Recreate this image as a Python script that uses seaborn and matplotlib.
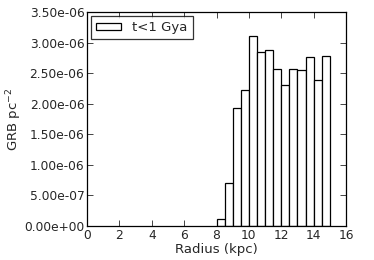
import numpy as np
import matplotlib
matplotlib.use("Agg")
import matplotlib.pyplot as plt
import seaborn as sns

# bin edges (kpc) and GRB surface density per bin
bin_edges = [8.0, 8.5, 9.0, 9.5, 10.0, 10.5, 11.0, 11.5, 12.0, 12.5, 13.0, 13.5, 14.0, 14.5, 15.0]
grb_density = [0.12e-6, 0.70e-6, 1.93e-6, 2.22e-6, 3.10e-6, 2.84e-6, 2.88e-6,
               2.57e-6, 2.31e-6, 2.57e-6, 2.55e-6, 2.77e-6, 2.39e-6, 2.78e-6]
x_ticks = [0, 2, 4, 6, 8, 10, 12, 14, 16]
y_ticks = [0, 0.5e-6, 1.0e-6, 1.5e-6, 2.0e-6, 2.5e-6, 3.0e-6, 3.5e-6]

sns.set_style("ticks")
plt.rcParams["font.family"] = ["DejaVu Sans"]

fig = plt.figure(figsize=(3.74, 2.6), dpi=100)
ax = fig.add_axes([0.233, 0.131, 0.692, 0.823])

centers = (np.array(bin_edges[:-1]) + np.array(bin_edges[1:])) / 2
sns.histplot(x=centers, weights=grb_density, bins=bin_edges, ax=ax,
             color="white", edgecolor="black", linewidth=0.9, alpha=1.0,
             label="t<1 Gya")

ax.set_xlim(0, 16)
ax.set_ylim(0, 3.5e-6)
ax.set_xticks(x_ticks)
ax.set_yticks(y_ticks)
ax.set_yticklabels(["%.2e" % v for v in y_ticks])
ax.tick_params(direction="in", top=True, right=True, labelsize=8.8,
               length=4, width=0.6, pad=2)
for s in ax.spines.values():
    s.set_linewidth(0.9)
    s.set_color("black")

ax.set_xlabel("Radius (kpc)", fontsize=9.5, labelpad=1)
ax.set_ylabel(r"GRB pc$^{-2}$", fontsize=9.5, labelpad=0)

leg = ax.legend(loc="upper left", fontsize=9.5, fancybox=False, frameon=True,
                handlelength=1.9, handleheight=0.5, borderaxespad=0.3)
leg.get_frame().set_edgecolor("black")
leg.get_frame().set_linewidth(0.9)

fig.savefig("out.png", dpi=100)
